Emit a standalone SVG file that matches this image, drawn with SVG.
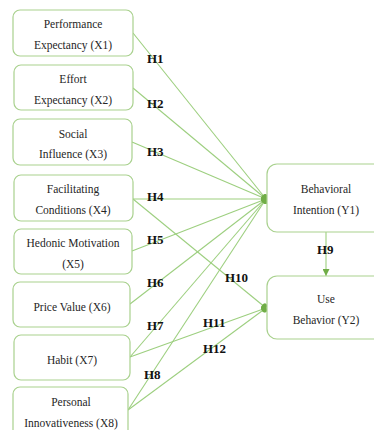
<svg xmlns="http://www.w3.org/2000/svg" width="374" height="430" viewBox="0 0 374 430">
<defs>
<style>
.box{fill:#fff;stroke:#a9d18e;stroke-width:1.2}
.t{font-family:"Liberation Serif","Times New Roman",serif;font-size:11.5px;fill:#262626;text-anchor:middle}
.h{font-family:"Liberation Serif","Times New Roman",serif;font-size:13px;font-weight:bold;fill:#111}
.c{fill:none;stroke:#9dcf7f;stroke-width:1.1}
</style>
<marker id="dot" viewBox="0 0 8 10" refX="7" refY="5" markerWidth="6" markerHeight="8" markerUnits="userSpaceOnUse" orient="auto">
<ellipse cx="4" cy="5" rx="3.5" ry="4.5" fill="#70ad47"/>
</marker>
<marker id="tri" viewBox="0 0 10 10" refX="10" refY="5" markerWidth="7" markerHeight="7" markerUnits="userSpaceOnUse" orient="auto">
<path d="M0,0 L10,5 L0,10 Z" fill="#70ad47"/>
</marker>
</defs>
<rect width="374" height="430" fill="#fff"/>
<g id="connectors">
<line class="c" x1="133" y1="33" x2="266" y2="199" marker-end="url(#dot)"/>
<line class="c" x1="133" y1="88" x2="266" y2="199" marker-end="url(#dot)"/>
<line class="c" x1="132" y1="142" x2="266" y2="199" marker-end="url(#dot)"/>
<line class="c" x1="133" y1="199" x2="266" y2="199" marker-end="url(#dot)"/>
<line class="c" x1="132" y1="251" x2="266" y2="199" marker-end="url(#dot)"/>
<line class="c" x1="130" y1="304" x2="266" y2="199" marker-end="url(#dot)"/>
<line class="c" x1="130" y1="357" x2="266" y2="199" marker-end="url(#dot)"/>
<line class="c" x1="128" y1="410" x2="266" y2="199" marker-end="url(#dot)"/>
<line class="c" x1="133" y1="199" x2="266" y2="308" marker-end="url(#dot)"/>
<line class="c" x1="130" y1="357" x2="266" y2="308" marker-end="url(#dot)"/>
<line class="c" x1="128" y1="410" x2="266" y2="308" marker-end="url(#dot)"/>
<line class="c" x1="326" y1="232" x2="326" y2="276" marker-end="url(#tri)"/>
</g>
<g id="labels">
<text class="h" x="147" y="63">H1</text>
<text class="h" x="147" y="108">H2</text>
<text class="h" x="147" y="156">H3</text>
<text class="h" x="147" y="201">H4</text>
<text class="h" x="147" y="244">H5</text>
<text class="h" x="147" y="287">H6</text>
<text class="h" x="147" y="330">H7</text>
<text class="h" x="144" y="379">H8</text>
<text class="h" x="317" y="254">H9</text>
<text class="h" x="225" y="282">H10</text>
<text class="h" x="203" y="327">H11</text>
<text class="h" x="203" y="353">H12</text>
</g>
<g id="X1"><rect class="box" x="13" y="10" width="120" height="46" rx="7"/><text class="t" x="73" y="28">Performance</text><text class="t" x="73" y="49">Expectancy (X1)</text></g>
<g id="X2"><rect class="box" x="14" y="65" width="119" height="45" rx="7"/><text class="t" x="73" y="83">Effort</text><text class="t" x="73" y="104">Expectancy (X2)</text></g>
<g id="X3"><rect class="box" x="13" y="119" width="119" height="46" rx="7"/><text class="t" x="73" y="138">Social</text><text class="t" x="73" y="158">Influence (X3)</text></g>
<g id="X4"><rect class="box" x="14" y="175" width="119" height="46" rx="7"/><text class="t" x="73" y="193">Facilitating</text><text class="t" x="73" y="214">Conditions (X4)</text></g>
<g id="X5"><rect class="box" x="14" y="229" width="118" height="45" rx="7"/><text class="t" x="73" y="247">Hedonic Motivation</text><text class="t" x="73" y="268">(X5)</text></g>
<g id="X6"><rect class="box" x="13" y="282" width="117" height="45" rx="7"/><text class="t" x="72" y="311">Price Value (X6)</text></g>
<g id="X7"><rect class="box" x="14" y="335" width="116" height="45" rx="7"/><text class="t" x="72" y="364">Habit (X7)</text></g>
<g id="X8"><rect class="box" x="13" y="387" width="115" height="50" rx="7"/><text class="t" x="71" y="406">Personal</text><text class="t" x="71" y="427">Innovativeness (X8)</text></g>
<g id="Y1"><rect class="box" x="267" y="164" width="120" height="68" rx="10"/><text class="t" x="326" y="193">Behavioral</text><text class="t" x="326" y="214">Intention (Y1)</text></g>
<g id="Y2"><rect class="box" x="267" y="276" width="120" height="63" rx="10"/><text class="t" x="326" y="303">Use</text><text class="t" x="326" y="324">Behavior (Y2)</text></g>
</svg>
